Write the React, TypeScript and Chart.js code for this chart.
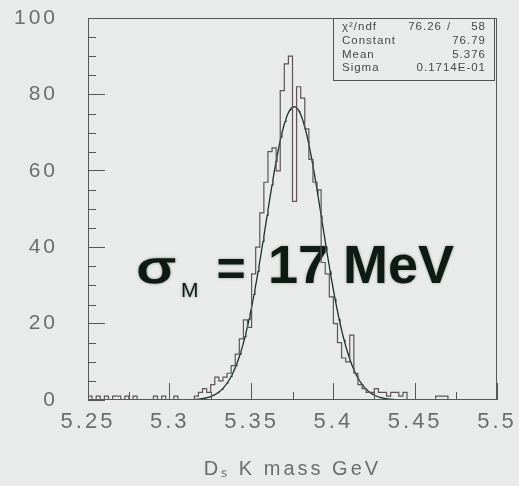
import React, { useEffect, useRef } from 'react';
import { Chart, registerables } from 'chart.js';

Chart.register(...registerables);

// Histogram binning: 100 bins of 2.5 MeV between 5.25 and 5.50 GeV
const BIN_LOW = 5.25;
const BIN_WIDTH = 0.0025;

// Entries per bin
const COUNTS = [
  0, 1, 0, 1, 0, 1, 0, 1, 1, 0,
  1, 0, 1, 0, 0, 0, 0, 1, 0, 1,
  0, 0, 1, 0, 0, 0, 0, 1, 2, 3,
  2, 4, 6, 5, 6, 7, 9, 12, 16, 21,
  19, 33, 40, 49, 57, 65, 66, 60, 81, 88,
  90, 52, 82, 79, 71, 63, 57, 55, 36, 33,
  27, 20, 15, 11, 10, 17, 7, 4, 3, 2,
  2, 3, 2, 2, 1, 2, 2, 1, 2, 0,
  0, 0, 0, 0, 0, 0, 1, 1, 1, 0,
  0, 0, 0, 0, 0, 0, 0, 0, 0, 0,
];

// Gaussian fit results
const FIT_CONSTANT = 76.79;
const FIT_MEAN = 5.376;
const FIT_SIGMA = 0.01714;
const FIT_RANGE = [5.30, 5.45];
const CHI2 = '76.26';
const NDF = '58';

// Stats box rows: label, value
const STAT_LABELS = ['Constant', 'Mean', 'Sigma'];
const STAT_VALUES = ['76.79', '5.376', '0.1714E-01'];

// Axes
const X_RANGE = [5.25, 5.5];
const X_STEP = 0.05;
const X_MINOR = [5.275, 5.325, 5.375, 5.425, 5.475];
const Y_RANGE = [0, 100];
const Y_STEP = 20;
const Y_MINOR = [5, 10, 15, 25, 30, 35, 45, 50, 55, 65, 70, 75, 85, 90, 95];

const BG = '#e8ebea';
const AXIS = '#545a57';
const LABEL = '#6a6e6c';
const HIST = '#5e5557';
const FIT = '#1d3027';
const INK = '#0e1a14';

const gauss = (x: number) =>
  FIT_CONSTANT * Math.exp(-0.5 * ((x - FIT_MEAN) / FIT_SIGMA) ** 2);

const zeroPadding = (s: any) => {
  s.paddingTop = 0;
  s.paddingBottom = 0;
  s.paddingLeft = 0;
  s.paddingRight = 0;
};

const decorations = {
  id: 'decorations',
  beforeUpdate(chart: any) {
    chart.ctx.letterSpacing = '3px';
  },
  beforeDraw(chart: any) {
    const ctx = chart.ctx;
    ctx.save();
    ctx.fillStyle = BG;
    ctx.fillRect(0, 0, chart.width, chart.height);
    ctx.restore();
    ctx.letterSpacing = '3px';
  },
  beforeDatasetsDraw(chart: any) {
    // resolution annotation
    const ctx = chart.ctx;
    ctx.save();
    ctx.letterSpacing = '0px';
    ctx.fillStyle = INK;
    ctx.strokeStyle = INK;
    ctx.shadowColor = 'rgba(20,30,25,0.35)';
    ctx.shadowBlur = 3;
    ctx.textBaseline = 'alphabetic';
    ctx.textAlign = 'left';
    // sigma, stretched wide
    ctx.save();
    ctx.translate(137, 283);
    ctx.scale(1.4, 1);
    ctx.font = '44px "Liberation Sans"';
    ctx.lineWidth = 1.6;
    ctx.fillText('σ', 0, 0);
    ctx.strokeText('σ', 0, 0);
    ctx.restore();
    ctx.font = '21px "Liberation Sans"';
    ctx.fillText('M', 181, 297);
    ctx.font = 'bold 50px "Liberation Sans"';
    ctx.textAlign = 'center';
    ctx.fillText('=', 231, 286);
    ctx.textAlign = 'left';
    ctx.font = 'bold 54px "Liberation Sans"';
    ctx.fillText('17 MeV', 268, 283);
    ctx.restore();
  },
  afterDraw(chart: any) {
    const ctx = chart.ctx;
    const { left, top, right, bottom } = chart.chartArea;
    const xs = chart.scales.x;
    const ys = chart.scales.y;
    ctx.save();
    ctx.letterSpacing = '0px';
    ctx.strokeStyle = AXIS;
    ctx.lineWidth = 1;
    // minor ticks
    ctx.beginPath();
    for (const v of X_MINOR) {
      const px = Math.round(xs.getPixelForValue(v)) + 0.5;
      ctx.moveTo(px, bottom);
      ctx.lineTo(px, bottom - 8);
    }
    for (const v of Y_MINOR) {
      const py = Math.round(ys.getPixelForValue(v)) + 0.5;
      ctx.moveTo(left, py);
      ctx.lineTo(left + 8, py);
    }
    ctx.stroke();
    // frame
    ctx.strokeRect(left + 0.5, top + 0.5, right - left - 1, bottom - top - 1);

    // stats box
    const bx = right - 164;
    const by = top;
    const bw = 161;
    const bh = 62;
    ctx.fillStyle = BG;
    ctx.fillRect(bx, by, bw, bh);
    ctx.strokeStyle = '#4f5552';
    ctx.strokeRect(bx + 0.5, by + 0.5, bw, bh);
    ctx.fillStyle = '#454a48';
    ctx.font = '11.5px "Liberation Sans"';
    ctx.letterSpacing = '1px';
    ctx.textBaseline = 'middle';
    const rowY = [by + 9, by + 23, by + 37, by + 50];
    const lx = bx + 9;
    const rx = bx + bw - 8;
    ctx.textAlign = 'left';
    ctx.fillText('χ²/ndf', lx, rowY[0]);
    ctx.textAlign = 'right';
    ctx.fillText(CHI2, bx + 109, rowY[0]);
    ctx.textAlign = 'center';
    ctx.fillText('/', bx + 116, rowY[0]);
    ctx.textAlign = 'right';
    ctx.fillText(NDF, rx, rowY[0]);
    STAT_LABELS.forEach((lab, i) => {
      ctx.textAlign = 'left';
      ctx.fillText(lab, lx, rowY[i + 1]);
      ctx.textAlign = 'right';
      ctx.fillText(STAT_VALUES[i], rx, rowY[i + 1]);
    });
    ctx.restore();
    ctx.letterSpacing = '3px';
  },
};

export default function App() {
  const ref = useRef<HTMLCanvasElement>(null);

  useEffect(() => {
    const canvas = ref.current;
    if (!canvas) return;

    const histPoints = COUNTS.map((c, i) => ({ x: BIN_LOW + i * BIN_WIDTH, y: c }));
    histPoints.push({ x: BIN_LOW + COUNTS.length * BIN_WIDTH, y: COUNTS[COUNTS.length - 1] });

    const fitPoints: { x: number; y: number }[] = [];
    const nFit = 300;
    for (let i = 0; i <= nFit; i++) {
      const x = FIT_RANGE[0] + ((FIT_RANGE[1] - FIT_RANGE[0]) * i) / nFit;
      fitPoints.push({ x, y: gauss(x) });
    }

    const tickFont = (size: number) => ({ family: '"Liberation Sans", Arial, sans-serif', size });

    const chart = new Chart(canvas, {
      type: 'line',
      data: {
        datasets: [
          {
            data: histPoints,
            stepped: 'after',
            borderColor: HIST,
            borderWidth: 1.2,
            pointRadius: 0,
            fill: false,
          },
          {
            data: fitPoints,
            borderColor: FIT,
            borderWidth: 1.3,
            pointRadius: 0,
            tension: 0,
            fill: false,
          },
        ],
      },
      options: {
        animation: false,
        responsive: false,
        devicePixelRatio: 1,
        layout: { padding: { left: 0, top: 18, right: 22, bottom: 0 } },
        plugins: { legend: { display: false }, tooltip: { enabled: false } },
        scales: {
          x: {
            type: 'linear',
            min: X_RANGE[0],
            max: X_RANGE[1],
            afterFit: (s: any) => {
              s.height = 86;
              zeroPadding(s);
            },
            border: { display: false },
            grid: { drawOnChartArea: false, drawTicks: true, tickLength: -17, tickColor: AXIS, tickWidth: 1 },
            ticks: {
              stepSize: X_STEP,
              autoSkip: false,
              maxRotation: 0,
              padding: 26,
              color: LABEL,
              font: tickFont(22),
              callback: (v: any) => String(Number(Number(v).toFixed(2))),
            },
            title: {
              display: true,
              text: 'Dₛ K mass GeV',
              color: LABEL,
              font: tickFont(20),
              padding: { top: 0, bottom: 5 },
            },
          },
          y: {
            min: Y_RANGE[0],
            max: Y_RANGE[1],
            afterFit: (s: any) => {
              s.width = 88;
              zeroPadding(s);
            },
            border: { display: false },
            grid: { drawOnChartArea: false, drawTicks: true, tickLength: -17, tickColor: AXIS, tickWidth: 1 },
            ticks: {
              stepSize: Y_STEP,
              padding: 47,
              color: LABEL,
              font: tickFont(21),
            },
          },
        },
      },
      plugins: [decorations],
    } as any);

    return () => chart.destroy();
  }, []);

  return (
    <div style={{ position: 'absolute', left: 0, top: 0, width: 519, height: 486, background: BG }}>
      <canvas ref={ref} width={519} height={486} style={{ display: 'block' }} />
    </div>
  );
}
